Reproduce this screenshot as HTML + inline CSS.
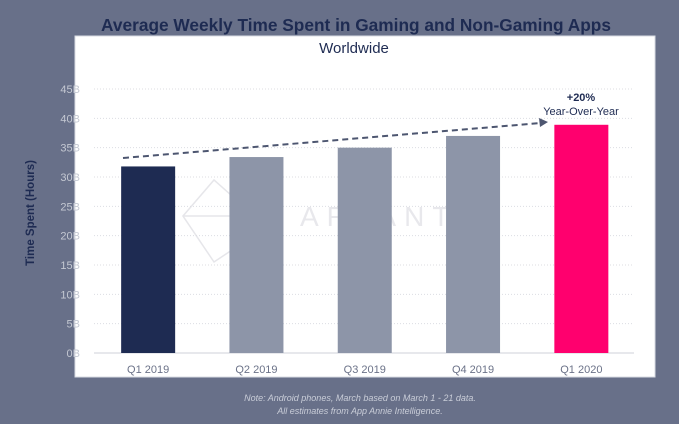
<!DOCTYPE html>
<html><head><meta charset="utf-8"><style>
html,body{margin:0;padding:0;width:679px;height:424px;overflow:hidden;background:#687089;font-family:"Liberation Sans",sans-serif}
</style></head><body>
<svg width="679" height="424" xmlns="http://www.w3.org/2000/svg">
<rect x="75" y="36" width="580" height="341" fill="#fff" stroke="#d8dbe3"/>
<text x="356" y="31" text-anchor="middle" font-size="17.3" font-weight="bold" fill="#1e2b52">Average Weekly Time Spent in Gaming and Non-Gaming Apps</text>
<text x="354" y="53" text-anchor="middle" font-size="15" fill="#1e2b52">Worldwide</text>
<text transform="translate(34,213) rotate(-90)" text-anchor="middle" font-size="11.5" font-weight="bold" fill="#1e2b52">Time Spent (Hours)</text>
<g stroke="#e6e6ea" fill="none" stroke-width="1.5">
<polygon points="183,216 214,180 232,196 232,250 214,262"/>
<line x1="183" y1="216" x2="232" y2="216"/>
</g>
<text x="300" y="226" font-size="28" fill="#e8e8ec" letter-spacing="8">ARTANTE</text>
<g id="grid"></g><g id="bars"></g><g id="labels"></g>
<line x1="123" y1="158" x2="541" y2="123" stroke="#4d5670" stroke-width="2" stroke-dasharray="6,4"/>
<polygon points="548,122 539,118 540,127" fill="#4d5670"/>
<text x="581" y="101" text-anchor="middle" font-size="11" font-weight="bold" fill="#1e2b52">+20%</text>
<text x="581" y="115" text-anchor="middle" font-size="11" fill="#1e2b52">Year-Over-Year</text>
<text x="360" y="401" text-anchor="middle" font-size="9" font-style="italic" fill="#c9cdd8">Note: Android phones, March based on March 1 - 21 data.</text>
<text x="360" y="414" text-anchor="middle" font-size="9" font-style="italic" fill="#c9cdd8">All estimates from App Annie Intelligence.</text>
</svg>
<script>
const categories=["Q1 2019","Q2 2019","Q3 2019","Q4 2019","Q1 2020"];
const values=[31.8,33.4,35.0,37.0,38.9];
const colors=["#1e2b52","#8d95a8","#8d95a8","#8d95a8","#ff006e"];
const ticks=[0,5,10,15,20,25,30,35,40,45];
const tickLabels=["0B","5B","10B","15B","20B","25B","30B","35B","40B","45B"];
const NS="http://www.w3.org/2000/svg";
const y0=353,pxPer=264/45,x0=94,step=108.3,bw=54;
const yS=v=>y0-v*pxPer, xS=i=>x0+step*(i+0.5);
function mk(t,a){const e=document.createElementNS(NS,t);for(const k in a)e.setAttribute(k,a[k]);return e;}
const g=document.getElementById('grid'),b=document.getElementById('bars'),l=document.getElementById('labels');
ticks.forEach((t,i)=>{
 const ln=mk('line',{x1:94,x2:634,y1:yS(t),y2:yS(t),stroke:i==0?'#cfd2da':'#dcdde2','stroke-dasharray':i==0?'':'1,2'});
 
 
 g.appendChild(ln);
 const tx=mk('text',{x:80,y:yS(t)+4,'text-anchor':'end','font-size':11,fill:'#c4c8d2'});
 tx.textContent=tickLabels[i];
 
 
 l.appendChild(tx);
});
values.forEach((v,i)=>{
 const r=mk('rect',{x:xS(i)-bw/2,y:yS(v),width:bw,height:y0-yS(v),fill:colors[i]});
 
 
 b.appendChild(r);
 const tx=mk('text',{x:xS(i),y:373,'text-anchor':'middle','font-size':11,fill:'#6b7288'});
 tx.textContent=categories[i];
 
 
 l.appendChild(tx);
});
</script>
</body></html>
